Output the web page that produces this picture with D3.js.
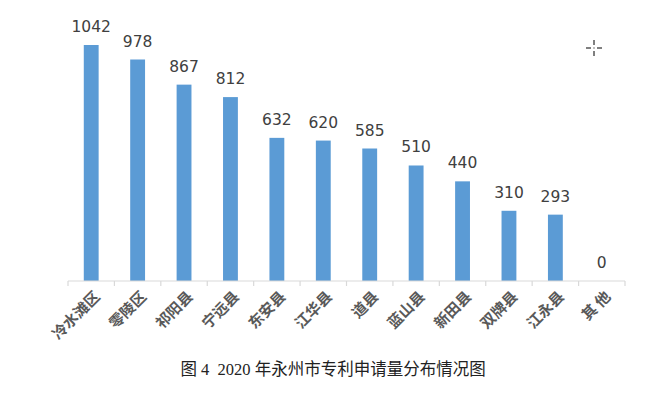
<!DOCTYPE html>
<html>
<head>
<meta charset="utf-8">
<script src="https://cdn.jsdelivr.net/npm/d3@7"></script>
<style>
  body { margin: 0; background: #fff; }
  svg { display: block; }
</style>
</head>
<body>
<svg id="chart"></svg>
<script>
const width = 656, height = 398;
const margin = {top: 45, right: 31, bottom: 117, left: 68};

// data
const regions = ["冷水滩区", "零陵区", "祁阳县", "宁远县", "东安县", "江华县", "道县", "蓝山县", "新田县", "双牌县", "江永县", "其 他"];
const patents = [1042, 978, 867, 812, 632, 620, 585, 510, 440, 310, 293, 0];
const caption = "图 4  2020 年永州市专利申请量分布情况图";

const svg = d3.select("#chart")
  .attr("width", width)
  .attr("height", height);

const plotW = width - margin.left - margin.right,
      plotH = height - margin.top - margin.bottom;

const chart = svg.append("g")
  .attr("transform", "translate(" + margin.left + "," + margin.top + ")");

// scales
let x = d3.scaleBand()
  .domain(regions)
  .range([0, plotW])
  .paddingInner(0.68)
  .paddingOuter(0.34);

let y = d3.scaleLinear()
  .domain([0, d3.max(patents)])
  .range([plotH, 0]);

// bars
chart.selectAll(".bar")
  .data(regions)
  .enter().append("rect")
  .attr("class", "bar")
  .attr("x", d => x(d))
  .attr("y", (d, i) => y(patents[i]))
  .attr("width", x.bandwidth())
  .attr("height", (d, i) => plotH - y(patents[i]))
  .style("fill", "#5b9bd5");

// value labels
chart.selectAll(".value")
  .data(regions)
  .enter().append("text")
  .attr("class", "value")
  .attr("x", d => x(d) + x.bandwidth() / 2)
  .attr("y", (d, i) => y(patents[i]) - 13)
  .attr("text-anchor", "middle")
  .style("font-family", "'DejaVu Sans', sans-serif")
  .style("font-size", "15.5px")
  .style("fill", "#404040")
  .text((d, i) => patents[i]);

// x axis: line + tick marks between categories
const tickPos = d3.range(regions.length + 1).map(i => i * plotW / regions.length);

const axis = chart.append("g")
  .attr("transform", "translate(0," + plotH + ")");

axis.append("line")
  .attr("x1", 0).attr("x2", plotW)
  .attr("y1", 0).attr("y2", 0)
  .style("stroke", "#d9d9d9")
  .style("stroke-width", 1.2);

axis.selectAll(".tick")
  .data(tickPos)
  .enter().append("line")
  .attr("x1", d => d).attr("x2", d => d)
  .attr("y1", 0).attr("y2", 5)
  .style("stroke", "#d9d9d9")
  .style("stroke-width", 1.2);

// category labels, rotated
axis.selectAll(".cat")
  .data(regions)
  .enter().append("text")
  .attr("class", "cat")
  .attr("transform", d => "translate(" + (x(d) + x.bandwidth() / 2 + 6) + ",13) rotate(-45)")
  .attr("text-anchor", "end")
  .attr("dy", "0.35em")
  .style("font-family", "'Noto Sans CJK SC', sans-serif")
  .style("font-size", "15px")
  .style("font-weight", "bold")
  .style("fill", "#595959")
  .text(d => d);

// caption
svg.append("text")
  .attr("x", 333)
  .attr("y", 375)
  .attr("text-anchor", "middle")
  .style("font-family", "'Liberation Serif', 'Noto Sans CJK SC', serif")
  .style("font-size", "16.5px")
  .style("fill", "#222")
  .style("white-space", "pre")
  .text(caption);

// small cursor mark at top right
const cross = svg.append("g")
  .attr("transform", "translate(594,48)")
  .style("stroke", "#000")
  .style("stroke-width", 1);
[[-8, 0, -3, 0], [3, 0, 8, 0], [0, -8, 0, -3], [0, 3, 0, 8]].forEach(s => {
  cross.append("line").attr("x1", s[0]).attr("y1", s[1]).attr("x2", s[2]).attr("y2", s[3]);
});
cross.append("rect").attr("x", -0.5).attr("y", -0.5).attr("width", 1).attr("height", 1).style("fill", "#000").style("stroke", "none");
</script>
</body>
</html>
